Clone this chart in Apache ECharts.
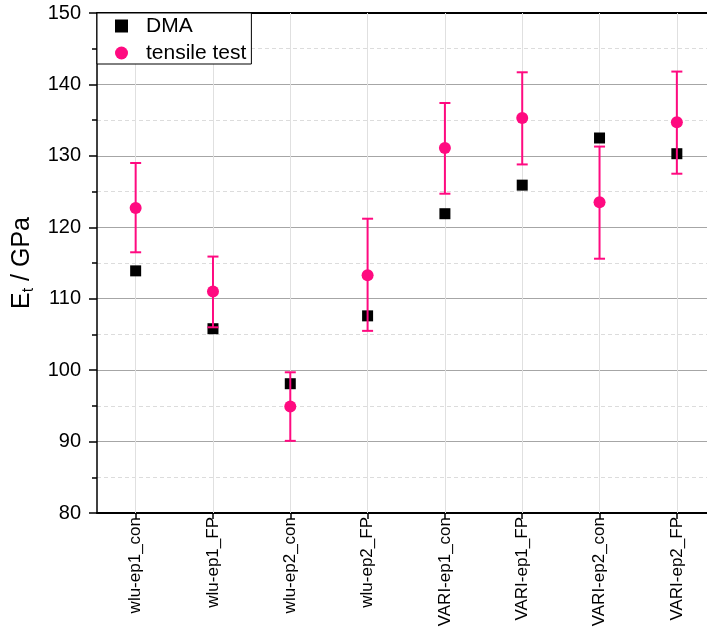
<!DOCTYPE html>
<html>
<head>
<meta charset="utf-8">
<script src="https://cdn.jsdelivr.net/npm/echarts@6/dist/echarts.min.js"></script>
<style>
html,body{margin:0;padding:0;background:#fff;}
#c{width:707px;height:632px;}
</style>
</head>
<body>
<div id="c"></div>
<script>
var categories = ['wlu-ep1_con','wlu-ep1_FP','wlu-ep2_con','wlu-ep2_FP','VARI-ep1_con','VARI-ep1_FP','VARI-ep2_con','VARI-ep2_FP'];
var dma = [113.9, 105.8, 98.1, 107.6, 121.9, 125.9, 132.5, 130.3];
var tensile = [122.7, 111.0, 94.9, 113.3, 131.1, 135.3, 123.5, 134.7];
var tensileLow = [116.5, 106.0, 90.1, 105.5, 124.7, 128.8, 115.6, 127.5];
var tensileHigh = [129.0, 115.9, 99.7, 121.2, 137.4, 141.7, 131.3, 141.8];
var yTicks = [80, 90, 100, 110, 120, 130, 140, 150];

var PINK = '#ff0a80';
var FONT = 'Liberation Sans, Arial, sans-serif';

var idx = categories.map(function (c, i) { return i; });
var dmaData = categories.map(function (c, i) { return [i, dma[i]]; });
var tensileData = categories.map(function (c, i) { return [i, tensile[i]]; });
var errData = categories.map(function (c, i) { return [i, tensileLow[i], tensileHigh[i]]; });
var vLines = idx.map(function (i) { return { xAxis: i }; });

var chart = echarts.init(document.getElementById('c'));
chart.setOption({
  animation: false,
  backgroundColor: '#fff',
  textStyle: { fontFamily: FONT },
  grid: { left: 97, top: 13, right: 0, height: 500, containLabel: false },
  legend: {
    data: ['DMA', 'tensile test'],
    orient: 'vertical',
    left: 97, top: 13,
    padding: [2, 5, 0, 18],
    itemWidth: 13, itemHeight: 13, itemGap: 5,
    backgroundColor: '#fff',
    borderColor: '#000', borderWidth: 1, borderRadius: 0,
    textStyle: { fontSize: 21, lineHeight: 22, color: '#000', fontFamily: FONT, padding: [0, 0, 0, 13] }
  },
  xAxis: [{
    type: 'value',
    min: -0.5, max: 7.39,
    axisLine: { show: true, onZero: false, lineStyle: { color: '#000', width: 2 } },
    axisTick: { show: true, customValues: idx, length: 6, inside: false, lineStyle: { color: '#000', width: 1.5 } },
    axisLabel: {
      customValues: idx, rotate: 90, margin: 4, fontSize: 17, color: '#000', fontFamily: FONT,
      formatter: function (v) { return categories[Math.round(v)]; }
    },
    splitLine: { show: false }
  }, {
    type: 'value',
    position: 'top',
    min: -0.5, max: 7.39,
    axisLine: { show: true, onZero: false, lineStyle: { color: '#000', width: 2 } },
    axisTick: { show: false },
    axisLabel: { show: false },
    splitLine: { show: false }
  }],
  yAxis: {
    type: 'value',
    min: yTicks[0], max: yTicks[yTicks.length - 1], interval: 10,
    name: '{a|E}{b|t}{a| / GPa}',
    nameLocation: 'middle',
    nameGap: 54,
    nameRotate: 90,
    nameTextStyle: {
      rich: {
        a: { fontSize: 25, color: '#000', fontFamily: FONT, lineHeight: 30, verticalAlign: 'middle' },
        b: { fontSize: 16, color: '#000', fontFamily: FONT, lineHeight: 30, verticalAlign: 'bottom', padding: [10, 0, 0, 0] }
      }
    },
    axisLine: { show: true, onZero: false, lineStyle: { color: '#000', width: 1.5 } },
    axisTick: { show: true, length: 8, lineStyle: { color: '#000', width: 1.5 } },
    minorTick: { show: true, splitNumber: 2, length: 5, lineStyle: { color: '#000', width: 1.5 } },
    axisLabel: { margin: 16, fontSize: 20, color: '#000', fontFamily: FONT },
    splitLine: { show: true, lineStyle: { color: '#a6a6a6', width: 1 } },
    minorSplitLine: { show: true, lineStyle: { color: '#dcdcdc', width: 1, type: [4, 3] } }
  },
  series: [{
    name: 'DMA',
    type: 'scatter',
    symbol: 'rect',
    symbolSize: 11,
    itemStyle: { color: '#000', opacity: 1 },
    data: dmaData,
    z: 2,
    markLine: {
      silent: true,
      symbol: ['none', 'none'],
      label: { show: false },
      lineStyle: { color: '#e0e0e0', width: 1, type: 'solid', opacity: 1 },
      data: vLines,
      z: 1
    }
  }, {
    name: 'err',
    type: 'custom',
    data: errData,
    z: 3,
    renderItem: function (params, api) {
      var x = api.value(0);
      var lo = api.coord([x, api.value(1)]);
      var hi = api.coord([x, api.value(2)]);
      var hw = 5.5;
      var st = { stroke: PINK, lineWidth: 2 };
      return {
        type: 'group',
        children: [
          { type: 'line', shape: { x1: lo[0], y1: lo[1], x2: hi[0], y2: hi[1] }, style: st },
          { type: 'line', shape: { x1: lo[0] - hw, y1: lo[1], x2: lo[0] + hw, y2: lo[1] }, style: st },
          { type: 'line', shape: { x1: hi[0] - hw, y1: hi[1], x2: hi[0] + hw, y2: hi[1] }, style: st }
        ]
      };
    }
  }, {
    name: 'tensile test',
    type: 'scatter',
    symbol: 'circle',
    symbolSize: 12,
    itemStyle: { color: PINK, opacity: 1 },
    data: tensileData,
    z: 4
  }]
});
</script>
</body>
</html>
